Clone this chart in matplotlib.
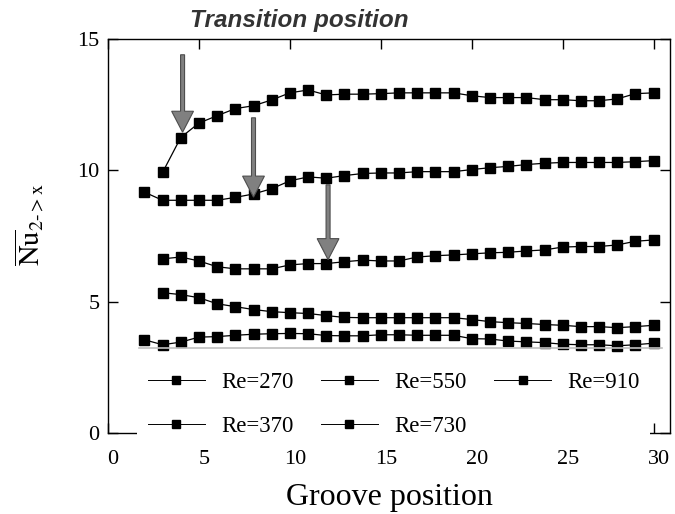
import matplotlib
matplotlib.use("Agg")
import matplotlib.pyplot as plt
import matplotlib.transforms as mtransforms
import numpy as np

plt.rcParams['font.family'] = ['Liberation Serif', 'DejaVu Serif']
plt.rcParams['mathtext.fontset'] = 'stix'

# groove positions
x_a = np.arange(2, 31)   # Re=270, Re=730 start at groove 2
x_b = np.arange(3, 31)   # the others start at groove 3

nu_270 = [3.55, 3.36, 3.46, 3.65, 3.67, 3.72, 3.76, 3.78, 3.79, 3.78, 3.71, 3.70, 3.70, 3.74, 3.74,
          3.72, 3.72, 3.72, 3.59, 3.58, 3.50, 3.47, 3.44, 3.38, 3.36, 3.36, 3.32, 3.36, 3.42]
nu_370 = [5.34, 5.27, 5.15, 4.92, 4.81, 4.70, 4.62, 4.58, 4.55, 4.47, 4.40, 4.39, 4.39, 4.39,
          4.39, 4.39, 4.39, 4.32, 4.24, 4.20, 4.17, 4.13, 4.10, 4.05, 4.05, 4.01, 4.05, 4.10]
nu_550 = [6.63, 6.70, 6.55, 6.33, 6.25, 6.25, 6.25, 6.40, 6.45, 6.45, 6.52, 6.58, 6.55, 6.55,
          6.70, 6.75, 6.78, 6.82, 6.86, 6.88, 6.93, 6.97, 7.08, 7.10, 7.10, 7.16, 7.30, 7.35]
nu_730 = [9.17, 8.86, 8.86, 8.86, 8.86, 8.97, 9.10, 9.30, 9.60, 9.75, 9.70, 9.80, 9.88, 9.90, 9.90,
          9.95, 9.95, 9.95, 10.03, 10.10, 10.15, 10.22, 10.27, 10.30, 10.30, 10.30, 10.30, 10.33, 10.37]
nu_910 = [9.92, 11.25, 11.80, 12.08, 12.35, 12.46, 12.68, 12.95, 13.06, 12.87, 12.90, 12.90, 12.92, 12.95,
          12.95, 12.95, 12.95, 12.84, 12.77, 12.77, 12.77, 12.69, 12.69, 12.65, 12.65, 12.72, 12.92, 12.95]

labels = ['Re=270', 'Re=370', 'Re=550', 'Re=730', 'Re=910']

# transition arrows: groove position, start value, tip value
arrow_x = [4.1, 8, 12.1]
arrow_top = [14.4, 12.0, 9.45]
arrow_tip = [11.45, 8.98, 6.6]

fig = plt.figure(figsize=(6.75, 5.14), dpi=100)
ax = fig.add_axes([0.16, 0.1576, 0.8326, 0.7665])

series = [(x_a, nu_270), (x_b, nu_370), (x_b, nu_550), (x_a, nu_730), (x_b, nu_910)]
for (xs, ys), lab in zip(series, labels):
    ax.plot(xs, ys, color='black', lw=0.9, marker='s', markersize=7.8,
            markerfacecolor='black', markeredgecolor='black', label=lab)

for xa, y0, y1 in zip(arrow_x, arrow_top, arrow_tip):
    ax.arrow(xa, y0, 0, y1 - y0, width=0.22, head_width=1.2, head_length=0.8,
             length_includes_head=True, fc='0.5', ec='0.3', lw=0.8, zorder=4)

ax.set_xlim(0, 30.9)
ax.set_ylim(0, 15)
ax.set_xticks([0, 5, 10, 15, 20, 25, 30])
ax.set_yticks([0, 5, 10, 15])
ax.tick_params(direction='in', length=7, width=1, top=True, right=True, labelsize=16)
ax.tick_params(axis='x', pad=12)
ax.tick_params(axis='y', pad=6)
for sp in ax.spines.values():
    sp.set_linewidth(1.0)

# bottom numbers sit a little to the right of their ticks
shift = mtransforms.ScaledTranslation(0.05, 0, fig.dpi_scale_trans)
for lbl in ax.get_xticklabels():
    lbl.set_transform(lbl.get_transform() + shift)

ax.set_xlabel('Groove position', fontsize=23)
ax.xaxis.set_label_coords(0.5, -0.126)
ax.set_ylabel(r'$\overline{\mathrm{Nu}}_{\mathrm{2\text{-}>x}}$', fontsize=20.5)
ax.yaxis.set_label_coords(-0.11, 0.53)

leg = ax.legend(ncol=3, loc='upper left', bbox_to_anchor=(0.052, 0.182), borderaxespad=0,
                fontsize=16.5, handlelength=2.5, handletextpad=0.7, columnspacing=1.2,
                labelspacing=1.0, borderpad=0.45, frameon=True, fancybox=False, markerscale=0.8)
leg.get_frame().set_facecolor('white')
leg.get_frame().set_edgecolor('none')
leg.get_frame().set_alpha(1)
for h in leg.get_lines():
    h.set_linewidth(0.7)

# thin grey rule along the top of the legend box
ax.plot([0.055, 0.985], [0.216, 0.216], transform=ax.transAxes, color='0.75', lw=1.2, zorder=6)

fig.text(0.444, 0.961, 'Transition position', family='Liberation Sans', fontsize=17.5,
         fontweight='bold', fontstyle='italic', color='0.2', ha='center', va='center')

fig.savefig('out.png', dpi=100)
